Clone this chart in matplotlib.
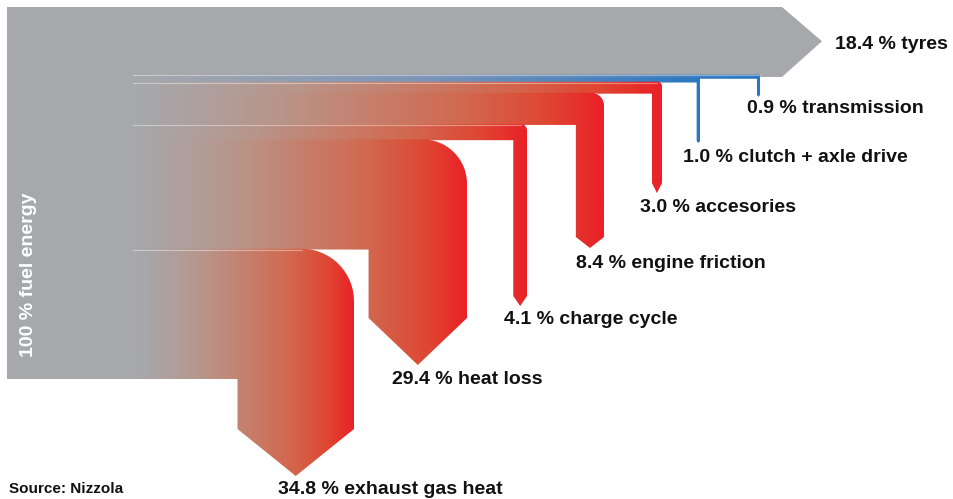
import numpy as np
import matplotlib.pyplot as plt
from matplotlib.path import Path
from matplotlib.patches import PathPatch, Rectangle
from matplotlib.colors import LinearSegmentedColormap

plt.rcParams['font.family'] = ['Liberation Sans', 'DejaVu Sans']

# energy split of the fuel (percent)
labels = ["tyres", "transmission", "clutch + axle drive", "accesories",
          "engine friction", "charge cycle", "heat loss", "exhaust gas heat"]
shares = [18.4, 0.9, 1.0, 3.0, 8.4, 4.1, 29.4, 34.8]
kinds = ["gray", "blue", "blue", "red", "red", "red", "red", "red"]
total_label = "100 % fuel energy"
source = "Source: Nizzola"

# layout (pixels, y down)
X0, Y0 = 7, 7
SRC_X = 133
PX = 3.72            # pixels per percent
G0 = 140             # where the colour gradient starts
turn_x = [782, 760, 700, 662, 604, 527, 467, 354]
stem_end = [None, 95, 141, 183, 237, 296, 318, 429]
tip = [40, 2, 2, 10, 11, 10, 47, 47]
label_xy = [(835, 44), (747, 108), (683, 157), (640, 207),
            (576, 263), (504, 320), (392, 379), (278, 489)]
seams = [1, 3, 5, 7]

GRAY = '#a7a8ac'
cmaps = {
    "red": LinearSegmentedColormap.from_list(
        'r', [(0, GRAY), (0.3, '#b8958a'), (0.5, '#c67f6c'), (0.7, '#d2684f'),
              (0.88, '#df4632'), (1, '#ea2127')]),
    "blue": LinearSegmentedColormap.from_list(
        'b', [(0, GRAY), (0.5, '#7c95b8'), (1, '#2b78c2')]),
}

fig = plt.figure(figsize=(9.54, 4.99), dpi=100)
ax = fig.add_axes([0, 0, 1, 1])

# source block
ax.add_patch(Rectangle((X0, Y0), SRC_X - X0, sum(shares) * PX,
                       fc=GRAY, ec='none', zorder=1))


def flow_path(top, bot, right, stem_w, s_end, tip_d, r):
    left = right - stem_w
    pts = [(SRC_X - 1, top)]
    cx, cy = right - r, top + r
    for a in np.radians(np.linspace(90, 0, 16)):
        pts.append((cx + r * np.cos(a), cy - r * np.sin(a)))
    pts += [(right, s_end), (right - stem_w / 2, s_end + tip_d),
            (left, s_end), (left, bot), (SRC_X - 1, bot), (SRC_X - 1, top)]
    return Path(pts, closed=True)


cum = np.concatenate([[0], np.cumsum(shares)])
tops = Y0 + cum[:-1] * PX
bots = Y0 + cum[1:] * PX

for i, (lab, v, kind) in enumerate(zip(labels, shares, kinds)):
    top, bot = tops[i], bots[i]
    if kind == "gray":
        mid = (top + bot) / 2
        pts = [(SRC_X - 1, top), (turn_x[i], top), (turn_x[i] + tip[i], mid),
               (turn_x[i], bot + 1.5), (SRC_X - 1, bot + 1.5)]
        ax.add_patch(plt.Polygon(pts, closed=True, fc=GRAY, ec='none', zorder=1))
    else:
        w = v * PX * 0.9
        r = 0.45 * w if kind == "red" else 0
        # small overlap upwards so neighbouring bands leave no seam
        path = flow_path(top - 0.8, bot, turn_x[i], w, stem_end[i], tip[i], r)
        patch = PathPatch(path, fc='none', ec='none', zorder=2)
        ax.add_patch(patch)
        xs = np.linspace(SRC_X, turn_x[i], 500)
        vals = np.clip((xs - G0) / (turn_x[i] - G0), 0, 1)
        im = ax.imshow(vals[None, :], cmap=cmaps[kind], vmin=0, vmax=1,
                       extent=(SRC_X - 1, turn_x[i], stem_end[i] + tip[i], top - 1),
                       aspect='auto', interpolation='bilinear', zorder=2)
        im.set_clip_path(patch)
    tx, ty = label_xy[i]
    ax.text(tx, ty, f"{v:.1f} % {lab}", fontsize=14, fontweight='bold',
            color='#111111', ha='left', va='center')

# faint seams between bands
for i in seams:
    w = shares[i] * PX * 0.9
    r = 0.45 * w if kinds[i] == "red" else 0
    ax.plot([SRC_X, turn_x[i] - r], [tops[i], tops[i]], color='white',
            lw=0.8, alpha=0.4, zorder=3)

ax.text(29, 275, total_label, rotation=90, fontsize=14, fontweight='bold',
        color='white', ha='center', va='center', zorder=4)
ax.text(9, 489, source, fontsize=11, fontweight='bold', color='#111111',
        ha='left', va='center')

ax.set_xlim(0, 954)
ax.set_ylim(499, 0)
ax.axis('off')
fig.savefig('out.png', dpi=100)
